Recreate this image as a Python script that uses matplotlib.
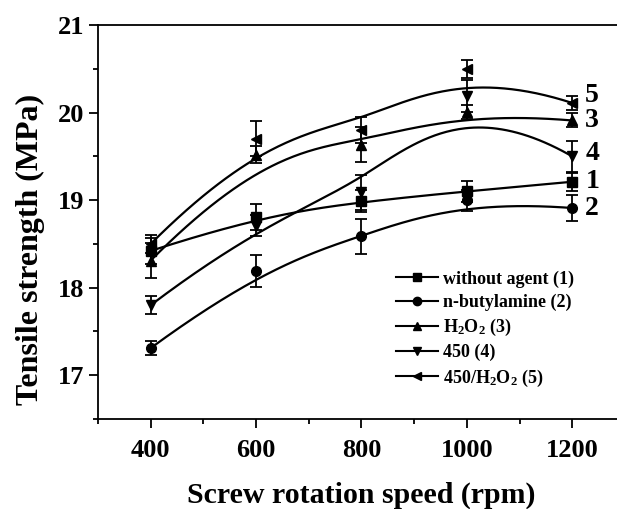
import numpy as np
import matplotlib
matplotlib.use('Agg')
import matplotlib.pyplot as plt
from matplotlib.lines import Line2D
from matplotlib.ticker import MultipleLocator

plt.rcParams['font.family'] = 'Liberation Serif'
plt.rcParams['font.weight'] = 'bold'
plt.rcParams['mathtext.fontset'] = 'custom'
plt.rcParams['mathtext.rm'] = 'Liberation Serif:bold'
plt.rcParams['mathtext.default'] = 'rm'

# Screw rotation speed (rpm)
speed = [400, 600, 800, 1000, 1200]

# Tensile strength (MPa) and error bars for each treatment
ts_none = [18.42, 18.81, 18.99, 19.1, 19.21]
err_none = [0.15, 0.15, 0.13, 0.12, 0.1]
ts_butyl = [17.31, 18.19, 18.59, 19.0, 18.91]
err_butyl = [0.08, 0.18, 0.2, 0.12, 0.15]
ts_h2o2 = [18.31, 19.52, 19.63, 20.01, 19.91]
err_h2o2 = [0.2, 0.1, 0.2, 0.08, 0.08]
ts_450 = [17.8, 18.71, 19.09, 20.19, 19.5]
err_450 = [0.1, 0.12, 0.2, 0.18, 0.18]
ts_450h = [18.5, 19.7, 19.8, 20.5, 20.11]
err_450h = [0.1, 0.2, 0.15, 0.1, 0.08]

labels = ['without agent (1)', 'n-butylamine (2)', r'H$_{2}$O$_{2}$ (3)',
          '450 (4)', r'450/H$_{2}$O$_{2}$ (5)']
markers = ['s', 'o', '^', 'v', '<']
tags = ['1', '2', '3', '4', '5']
tag_dy = [0.0, 0.0, 0.0, 0.03, 0.08]


def bspline(px, py, n=200):
    # clamped cubic B-spline using the data points as control points
    px = np.asarray(px, float)
    py = np.asarray(py, float)
    k = 3
    m = len(px)
    inner = np.linspace(0, 1, m - k + 1)
    knots = np.concatenate([[0] * k, inner, [1] * k])
    t = np.linspace(0, 1, n)
    t[-1] = 1 - 1e-9

    def basis(i, p, u):
        if p == 0:
            return ((knots[i] <= u) & (u < knots[i + 1])).astype(float)
        a = np.zeros_like(u)
        b = np.zeros_like(u)
        d1 = knots[i + p] - knots[i]
        d2 = knots[i + p + 1] - knots[i + 1]
        if d1 > 0:
            a = (u - knots[i]) / d1 * basis(i, p - 1, u)
        if d2 > 0:
            b = (knots[i + p + 1] - u) / d2 * basis(i + 1, p - 1, u)
        return a + b

    B = np.array([basis(i, k, t) for i in range(m)])
    return B.T @ px, B.T @ py


fig = plt.figure(figsize=(6.17, 5.09), dpi=100)
ax = fig.add_axes([0.1588, 0.1768, 0.854, 0.774])

series = [(ts_none, err_none), (ts_butyl, err_butyl), (ts_h2o2, err_h2o2),
          (ts_450, err_450), (ts_450h, err_450h)]

for (ys, es), mk in zip(series, markers):
    cx, cy = bspline(speed, ys)
    ax.plot(cx, cy, color='black', lw=1.6)
    ax.errorbar(speed, ys, yerr=es, fmt=mk, color='black', ms=7,
                elinewidth=1.3, capsize=4, capthick=1.3)

# curve numbers at the right end
for (ys, es), tag, dy in zip(series, tags, tag_dy):
    ax.text(1238, ys[-1] + dy, tag, fontsize=20, fontweight='bold',
            ha='center', va='center')

ax.set_xlim(300, 1300)
ax.set_ylim(16.5, 21)
ax.xaxis.set_major_locator(MultipleLocator(200))
ax.xaxis.set_minor_locator(MultipleLocator(100))
ax.yaxis.set_major_locator(MultipleLocator(1))
ax.yaxis.set_minor_locator(MultipleLocator(0.5))
ax.tick_params(which='major', direction='out', length=6.5, width=1.3,
               labelsize=19)
ax.tick_params(which='minor', direction='out', length=3.6, width=1.3)
ax.tick_params(axis='x', pad=8)
ax.tick_params(axis='y', pad=3.5)
for lab in ax.get_xticklabels() + ax.get_yticklabels():
    lab.set_fontweight('bold')
for sp in ax.spines.values():
    sp.set_linewidth(1.3)

ax.set_xlabel('Screw rotation speed (rpm)', fontsize=21.5, fontweight='bold')
ax.set_ylabel('Tensile strength (MPa)', fontsize=23, fontweight='bold')
ax.xaxis.set_label_coords(0.5, -0.158)
ax.yaxis.set_label_coords(-0.10, 0.43)

handles = [Line2D([], [], color='black', lw=1.5, marker=mk, ms=6)
           for mk in markers]
ax.legend(handles, labels, loc='upper left', bbox_to_anchor=(0.566, 0.377),
          frameon=False, handlelength=2.3, handletextpad=0.3,
          labelspacing=0.33, borderpad=0, borderaxespad=0,
          prop={'weight': 'bold', 'size': 13})

fig.savefig('out.png', dpi=100)
